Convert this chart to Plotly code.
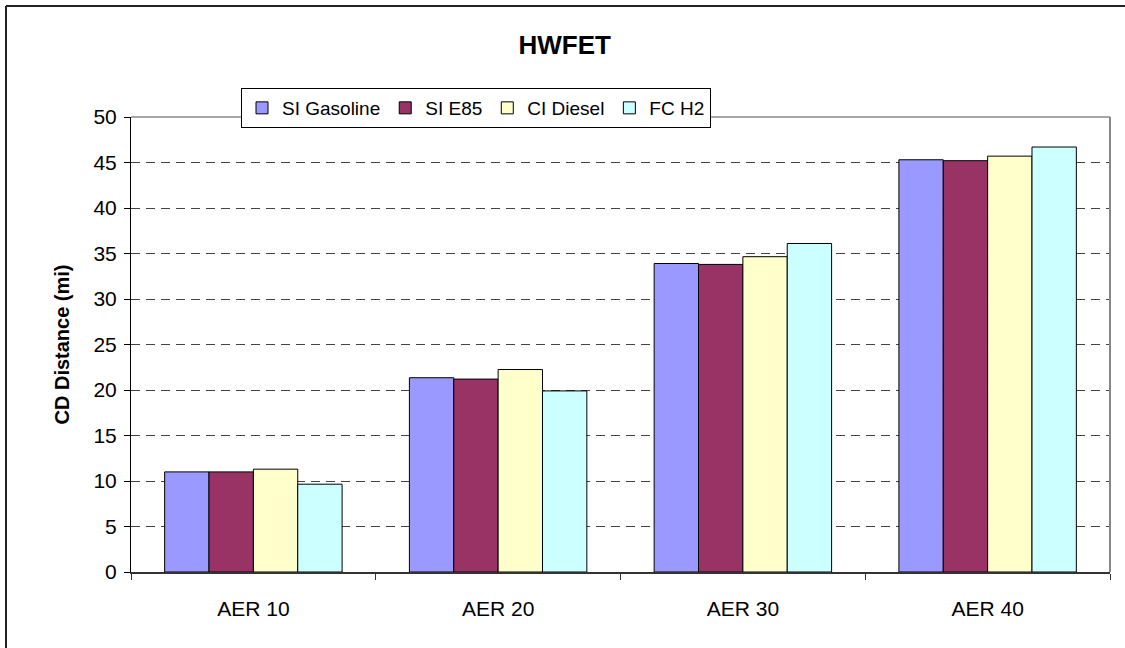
import plotly.graph_objects as go

# Charge-depleting distance on the HWFET cycle, by all-electric range
categories = ["AER 10", "AER 20", "AER 30", "AER 40"]
si_gasoline = [11.0, 21.35, 33.9, 45.3]
si_e85 = [11.0, 21.2, 33.8, 45.2]
ci_diesel = [11.3, 22.25, 34.65, 45.7]
fc_h2 = [9.65, 19.9, 36.1, 46.7]

series = [
    ("SI Gasoline", si_gasoline, "#9999FF"),
    ("SI E85", si_e85, "#993366"),
    ("CI Diesel", ci_diesel, "#FFFFCC"),
    ("FC H2", fc_h2, "#CCFFFF"),
]

W, H = 1125, 648
L, R, T, B = 131, 1110, 117, 572

fig = go.Figure()
for name, vals, color in series:
    fig.add_trace(go.Bar(
        x=categories, y=vals, name=name,
        marker=dict(color=color, line=dict(color="#000000", width=1)),
    ))

font = "Liberation Sans, Arial, sans-serif"


def px_x(p):
    return (p - L) / (R - L)


def px_y(p):
    return (B - p) / (B - T)


fig.update_layout(
    width=W, height=H,
    margin=dict(l=L, r=W - R, t=T, b=H - B, pad=0),
    paper_bgcolor="white", plot_bgcolor="white",
    barmode="group", bargap=0.275, bargroupgap=0,
    font=dict(family=font, size=20, color="#000000"),
    title=dict(text="<b>HWFET</b>", x=0.502, xanchor="center", xref="container",
               y=1 - 45 / H, yanchor="middle", yref="container",
               font=dict(family=font, size=26, color="#000000")),
    showlegend=True,
    legend=dict(orientation="h", x=px_x(241), y=px_y(88), xanchor="left", yanchor="top",
                bgcolor="white", bordercolor="#000000", borderwidth=1,
                font=dict(family=font, size=19), itemwidth=30, tracegroupgap=0,
                traceorder="normal"),
    xaxis=dict(type="category", showline=True, linecolor="#333333", linewidth=1.5,
               ticks="outside", tickson="boundaries", ticklen=6, tickcolor="#333333",
               ticklabelstandoff=17, showgrid=False,
               tickfont=dict(family=font, size=21), mirror=False),
    yaxis=dict(range=[0, 50], dtick=5, showline=True, linecolor="#000000", linewidth=1,
               ticks="outside", ticklen=6, tickcolor="#000000", ticklabelstandoff=3,
               showgrid=True, gridcolor="#444444", gridwidth=1, griddash="9px,6px",
               zeroline=False, tickfont=dict(family=font, size=21),
               title=dict(text="<b>CD Distance (mi)</b>", standoff=18,
                          font=dict(family=font, size=20))),
    shapes=[
        # plot area frame (top and right edges)
        dict(type="line", xref="paper", yref="paper", x0=0, x1=1, y0=1, y1=1,
             line=dict(color="#888888", width=1.5)),
        dict(type="line", xref="paper", yref="paper", x0=1, x1=1, y0=0, y1=1,
             line=dict(color="#888888", width=2)),
        # chart frame
        dict(type="line", xref="paper", yref="paper", x0=px_x(6), x1=px_x(6),
             y0=px_y(6), y1=px_y(660), line=dict(color="#222222", width=2)),
        dict(type="line", xref="paper", yref="paper", x0=px_x(6), x1=px_x(1140),
             y0=px_y(6), y1=px_y(6), line=dict(color="#222222", width=2)),
    ],
)

fig.write_html("out.html")
